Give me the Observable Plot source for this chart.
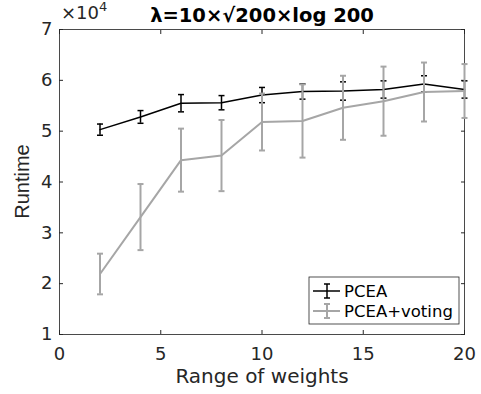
<!DOCTYPE html>
<html><head><meta charset="utf-8">
<script src="https://cdn.jsdelivr.net/npm/d3@7"></script>
<script src="https://cdn.jsdelivr.net/npm/@observablehq/plot@0.6"></script>
<style>
body{margin:0;background:#fff}
#chart{position:relative;width:481px;height:394px}
</style>
</head><body><div id="chart"></div>
<script>
// Data (runtime in units of 10^4)
const weights = [2, 4, 6, 8, 10, 12, 14, 16, 18, 20];
const pceaMean = [5.03, 5.28, 5.55, 5.56, 5.71, 5.78, 5.79, 5.82, 5.93, 5.82];
const pceaErr = [0.11, 0.125, 0.17, 0.14, 0.15, 0.15, 0.18, 0.17, 0.16, 0.17];
const votingMean = [2.19, 3.31, 4.43, 4.52, 5.18, 5.20, 5.46, 5.59, 5.77, 5.79];
const votingErr = [0.40, 0.65, 0.62, 0.70, 0.56, 0.72, 0.63, 0.68, 0.58, 0.53];
const seriesNames = ["PCEA", "PCEA+voting"];
const xTicks = [0, 5, 10, 15, 20];
const yTicks = [1, 2, 3, 4, 5, 6, 7];
const titleText = "λ=10×√200×log 200";
const xLabel = "Range of weights";
const yLabel = "Runtime";

const colors = {"PCEA": "#000000", "PCEA+voting": "#a6a6a6"};
const widths = {"PCEA": 1.5, "PCEA+voting": 2};

function rowsFor(name, mean, err) {
  return weights.map((w, i) => ({series: name, x: w, y: mean[i], lo: mean[i] - err[i], hi: mean[i] + err[i]}));
}
const pceaRows = rowsFor(seriesNames[0], pceaMean, pceaErr);
const votingRows = rowsFor(seriesNames[1], votingMean, votingErr);

const capSymbol = {draw(context, size) { const w = Math.sqrt(size / Math.PI); context.moveTo(-w, 0); context.lineTo(w, 0); }};

function seriesMarks(rows, name) {
  const stroke = colors[name], strokeWidth = widths[name];
  return [
    Plot.line(rows, {x: "x", y: "y", stroke, strokeWidth}),
    Plot.ruleX(rows, {x: "x", y1: "lo", y2: "hi", stroke, strokeWidth}),
    Plot.dot(rows, {x: "x", y: "lo", symbol: capSymbol, r: 3, stroke, strokeWidth, fill: "none"}),
    Plot.dot(rows, {x: "x", y: "hi", symbol: capSymbol, r: 3, stroke, strokeWidth, fill: "none"})
  ];
}

const axisColor = "#262626";
const fmt = d3.format("d");
const chart = Plot.plot({
  width: 481,
  height: 394,
  marginLeft: 59,
  marginRight: 17,
  marginTop: 29,
  marginBottom: 60,
  style: {fontFamily: "DejaVu Sans", fontSize: "18px", color: axisColor, background: "white"},
  x: {domain: [0, 20]},
  y: {domain: [1, 7]},
  marks: [
    Plot.frame({stroke: "#4a4a4a", strokeWidth: 1}),
    Plot.axisX(xTicks, {anchor: "bottom", tickSize: -4, tickPadding: 17, tickFormat: fmt, fontSize: 18, label: null, color: axisColor}),
    Plot.axisX(xTicks, {anchor: "top", tickSize: -4, tickFormat: () => "", label: null, color: axisColor}),
    Plot.axisY(yTicks, {anchor: "left", tickSize: -4, tickPadding: 11, tickFormat: fmt, fontSize: 18, label: null, color: axisColor}),
    Plot.axisY(yTicks, {anchor: "right", tickSize: -4, tickFormat: () => "", label: null, color: axisColor}),
    ...seriesMarks(pceaRows, seriesNames[0]),
    ...seriesMarks(votingRows, seriesNames[1]),
    Plot.text([titleText], {frameAnchor: "top", dy: -14, text: d => d, fontWeight: "bold", fontSize: 19.5, lineAnchor: "middle", fill: "#000"}),
    Plot.text([xLabel], {frameAnchor: "bottom", dy: 42, text: d => d, fontSize: 20, lineAnchor: "middle", fill: axisColor})
  ]
});
document.getElementById("chart").appendChild(chart);

// y label, ×10^4 exponent label and legend
const svgSel = d3.select(chart);
const sx = chart.scale("x"), sy = chart.scale("y");
const frameLeft = sx.apply(0), frameRight = sx.apply(20), frameTop = sy.apply(7), frameBottom = sy.apply(1);

svgSel.append("text")
  .attr("transform", `translate(${frameLeft - 37},${(frameTop + frameBottom) / 2}) rotate(-90)`)
  .attr("text-anchor", "middle").attr("dy", "0.35em")
  .attr("font-family", "Liberation Sans").attr("font-size", 20).attr("fill", axisColor)
  .text(yLabel);

const mult = svgSel.append("text").attr("x", frameLeft + 2).attr("y", frameTop - 10)
  .attr("text-anchor", "start")
  .attr("fill", axisColor).attr("font-family", "DejaVu Sans").attr("font-size", 18);
mult.append("tspan").text("×10");
mult.append("tspan").attr("dy", -8).attr("font-size", 13).text("4");

const lg = svgSel.append("g");
const boxW = 150, boxH = 47;
const bx = frameRight - 5 - boxW, by = frameBottom - 10 - boxH;
lg.append("rect").attr("x", bx).attr("y", by).attr("width", boxW).attr("height", boxH)
  .attr("fill", "white").attr("stroke", axisColor).attr("stroke-width", 0.8);
seriesNames.forEach((name, i) => {
  const cy = by + 14 + i * 20;
  const c = colors[name], w = widths[name];
  const g = lg.append("g").attr("stroke", c).attr("stroke-width", w);
  g.append("line").attr("x1", bx + 4).attr("x2", bx + 31).attr("y1", cy).attr("y2", cy);
  g.append("line").attr("x1", bx + 18).attr("x2", bx + 18).attr("y1", cy - 7).attr("y2", cy + 7);
  g.append("line").attr("x1", bx + 15).attr("x2", bx + 21).attr("y1", cy - 7).attr("y2", cy - 7);
  g.append("line").attr("x1", bx + 15).attr("x2", bx + 21).attr("y1", cy + 7).attr("y2", cy + 7);
  lg.append("text").attr("x", bx + 35).attr("y", cy).attr("dy", "0.35em").attr("text-anchor", "start")
    .attr("font-family", "DejaVu Sans").attr("font-size", 16.5).attr("fill", "#000").text(name);
});
</script>
</body></html>
